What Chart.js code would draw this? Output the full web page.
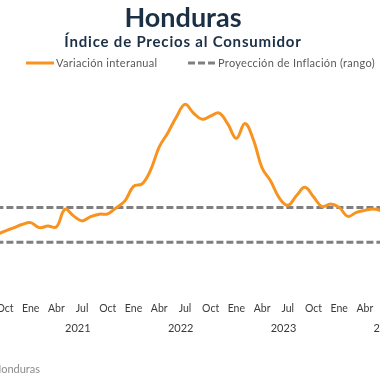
<!DOCTYPE html>
<html lang="es">
<head>
<meta charset="utf-8">
<title>Honduras - Índice de Precios al Consumidor</title>
<script src="https://cdn.jsdelivr.net/npm/chart.js@4.4.1/dist/chart.umd.min.js"></script>
<style>
  html, body { margin: 0; padding: 0; background: #fff; overflow: hidden; }
  #wrap { position: relative; width: 380px; height: 380px; }
</style>
</head>
<body>
<div id="wrap"><canvas id="ipcChart" width="380" height="380"></canvas></div>
<script>
// Monthly readings, Sep 2020 .. Jun 2024 (year-on-year CPI change, %)
const months = [
  '2020-09', '2020-10', '2020-11', '2020-12',
  '2021-01', '2021-02', '2021-03', '2021-04', '2021-05', '2021-06',
  '2021-07', '2021-08', '2021-09', '2021-10', '2021-11', '2021-12',
  '2022-01', '2022-02', '2022-03', '2022-04', '2022-05', '2022-06',
  '2022-07', '2022-08', '2022-09', '2022-10', '2022-11', '2022-12',
  '2023-01', '2023-02', '2023-03', '2023-04', '2023-05', '2023-06',
  '2023-07', '2023-08', '2023-09', '2023-10', '2023-11', '2023-12',
  '2024-01', '2024-02', '2024-03', '2024-04', '2024-05', '2024-06'
];
const inflation = [
  3.42, 3.64, 3.83, 4.02,
  4.13, 3.84, 3.93, 3.88, 4.90, 4.52,
  4.23, 4.48, 4.62, 4.64, 5.00, 5.39,
  6.23, 6.37, 7.18, 8.51, 9.32, 10.24,
  10.97, 10.47, 10.11, 10.30, 10.47, 9.84,
  9.01, 9.87, 8.91, 7.29, 6.54, 5.56,
  5.13, 5.68, 6.17, 5.62, 5.06, 5.21,
  5.01, 4.49, 4.72, 4.84, 4.92, 4.81
];
// Inflation projection range (%)
const rangeHigh = 5.0;
const rangeLow = 3.0;

// Tick labels
const monthNames = ['Ene', 'Feb', 'Mar', 'Abr', 'May', 'Jun', 'Jul', 'Ago', 'Sep', 'Oct', 'Nov', 'Dic'];
const quarterMonths = ['01', '04', '07', '10'];
const yearLabels = ['2021', '2022', '2023', '2024'];

// Quarterly month ticks and mid-year ticks, as positions on the month index
const quarterTicks = [];
months.forEach((m, i) => {
  if (quarterMonths.includes(m.slice(5))) quarterTicks.push(i);
});
const yearTicks = yearLabels.map(y => months.indexOf(y + '-01') + 5.5);

const fontFamily = 'Lato, "Open Sans", sans-serif';

// Title, subtitle, legend and source note drawn around the plot
const textPlugin = {
  id: 'texts',
  afterDraw(chart) {
    const ctx = chart.ctx;
    ctx.save();
    ctx.textAlign = 'center';
    ctx.textBaseline = 'middle';
    ctx.fillStyle = '#1b2f45';
    ctx.font = 'bold 27px ' + fontFamily;
    ctx.fillText('Honduras', 183, 18);
    ctx.font = 'bold 15px ' + fontFamily;
    ctx.letterSpacing = '0.8px';
    ctx.fillText('Índice de Precios al Consumidor', 183, 42);

    // legend: one entry per visible dataset label
    const entries = [
      { ds: chart.data.datasets[0], x: 26 },
      { ds: chart.data.datasets[1], x: 188 }
    ];
    ctx.textAlign = 'left';
    ctx.font = '11px ' + fontFamily;
    ctx.letterSpacing = '0.3px';
    entries.forEach(({ ds, x }) => {
      ctx.beginPath();
      ctx.strokeStyle = ds.borderColor;
      ctx.lineWidth = ds.borderWidth;
      ctx.setLineDash(ds.borderDash || []);
      ctx.moveTo(x, 63);
      ctx.lineTo(x + 28, 63);
      ctx.stroke();
      ctx.setLineDash([]);
      ctx.fillStyle = '#595959';
      ctx.fillText(ds.label, x + 30, 63);
    });
    ctx.letterSpacing = '0px';

    ctx.textAlign = 'right';
    ctx.fillStyle = '#8c8c8c';
    ctx.font = '11px ' + fontFamily;
    ctx.fillText('Fuente: Banco Central de Honduras', 40, 369);
    ctx.restore();
  }
};

const noSidePadding = (scale) => {
  scale.paddingLeft = 0;
  scale.paddingRight = 0;
};

const canvas = document.getElementById('ipcChart');
new Chart(canvas.getContext('2d'), {
  type: 'line',
  data: {
    datasets: [
      {
        label: 'Variación interanual',
        data: inflation.map((v, i) => ({ x: i, y: v })),
        borderColor: '#f7931e',
        backgroundColor: '#f7931e',
        borderWidth: 3,
        pointRadius: 0,
        tension: 0.4
      },
      {
        label: 'Proyección de Inflación (rango)',
        data: [{ x: 0, y: rangeHigh }, { x: months.length - 1, y: rangeHigh }],
        borderColor: '#808080',
        backgroundColor: '#808080',
        borderWidth: 3,
        borderDash: [7, 3],
        pointRadius: 0
      },
      {
        label: 'rango inferior',
        data: [{ x: 0, y: rangeLow }, { x: months.length - 1, y: rangeLow }],
        borderColor: '#808080',
        borderWidth: 3,
        borderDash: [7, 3],
        pointRadius: 0
      }
    ]
  },
  options: {
    responsive: false,
    animation: false,
    devicePixelRatio: 1,
    layout: { padding: { top: 86.6, bottom: 42, left: 0, right: 0 } },
    plugins: {
      legend: { display: false },
      tooltip: { enabled: false }
    },
    scales: {
      x: {
        type: 'linear',
        min: 0.42,
        max: 44.76,
        grid: { display: false, drawTicks: false },
        border: { display: false },
        afterBuildTicks: (scale) => { scale.ticks = quarterTicks.map(v => ({ value: v })); },
        afterFit: (scale) => { noSidePadding(scale); scale.height = 24; },
        ticks: {
          autoSkip: false,
          maxRotation: 0,
          padding: 8,
          color: '#3a3a3a',
          font: { family: fontFamily, size: 10.5 },
          callback: (v) => monthNames[Number(months[v].slice(5)) - 1]
        }
      },
      years: {
        type: 'linear',
        position: 'bottom',
        min: 0.42,
        max: 44.76,
        grid: { display: false, drawTicks: false },
        border: { display: false },
        afterBuildTicks: (scale) => { scale.ticks = yearTicks.map(v => ({ value: v })); },
        afterFit: (scale) => { noSidePadding(scale); scale.height = 20; },
        ticks: {
          autoSkip: false,
          maxRotation: 0,
          padding: 4,
          color: '#3a3a3a',
          font: { family: fontFamily, size: 11 },
          callback: (v) => yearLabels[yearTicks.indexOf(v)]
        }
      },
      y: {
        display: false,
        min: 0,
        max: 12
      }
    }
  },
  plugins: [textPlugin]
});
</script>
</body>
</html>
